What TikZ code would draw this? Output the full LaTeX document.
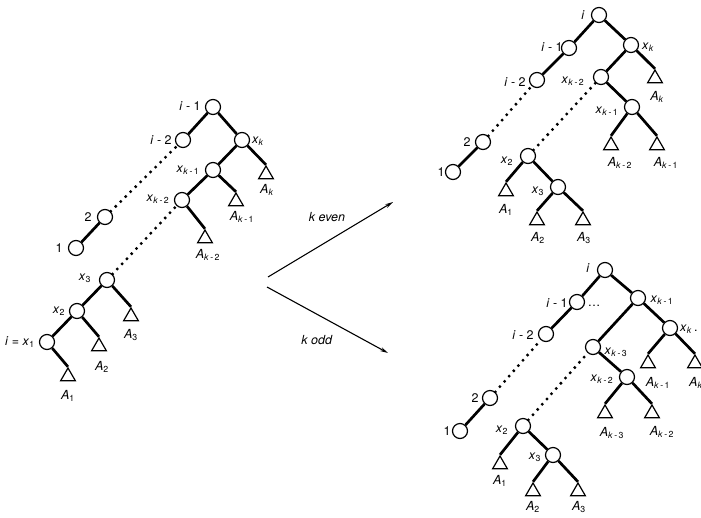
\documentclass[tikz,border=0pt]{standalone}
\usepackage{fontspec}
\setmainfont{TeX Gyre Heros}
\usetikzlibrary{arrows.meta,shapes.geometric}

% label helpers
\newcommand\vi{\textit{i}}
\newcommand\vx[1]{\textit{x}\textsubscript{#1}}
\newcommand\vA[1]{\textit{A}\textsubscript{#1}}
\newcommand\km[1]{\textit{k}\,-\,#1}

\tikzset{
  vtx/.style={circle, draw, line width=1.2pt, minimum size=15pt, inner sep=0pt},
  leaf/.style={regular polygon, regular polygon sides=3, draw, line width=1.2pt,
               minimum size=17pt, inner sep=0pt},
  branch/.style={line width=2.7pt},
  chain/.style={line width=3.3pt, line cap=round, dash pattern=on 0pt off 7pt},
  lbl/.style={font=\fontsize{12.5}{14}\selectfont, inner sep=0pt},
  flow/.style={line width=1.1pt, -{Stealth[length=8pt,width=4pt]}}
}

\begin{document}
\begin{tikzpicture}[x=1pt,y=-1pt]
\useasboundingbox (0,0) rectangle (701,517);

% ---------------- left tree ----------------
\node[vtx] (Lim1) at (213,107) {};
\node[vtx] (Lim2) at (183,140) {};
\node[vtx] (Lxk)  at (242,140) {};
\node[vtx] (Lxk1) at (213,170) {};
\node[vtx] (Lxk2) at (182,200) {};
\node[vtx] (Ln2)  at (105,217) {};
\node[vtx] (Ln1)  at (76,248) {};
\node[vtx] (Lx3)  at (107,280) {};
\node[vtx] (Lx2)  at (77,311) {};
\node[vtx] (Lx1)  at (47,342) {};
\node[leaf] (LAk)  at (266,174.5) {};
\node[leaf] (LAk1) at (236,201.5) {};
\node[leaf] (LAk2) at (205,238.5) {};
\node[leaf] (LA3)  at (131,316.5) {};
\node[leaf] (LA2)  at (99,346.5) {};
\node[leaf] (LA1)  at (68,376.5) {};

\draw[branch] (Lim1) -- (Lim2);
\draw[branch] (Lim1) -- (Lxk);
\draw[branch] (Lxk) -- (Lxk1);
\draw[branch] (Lxk) -- (LAk.corner 1);
\draw[branch] (Lxk1) -- (Lxk2);
\draw[branch] (Lxk1) -- (LAk1.corner 1);
\draw[branch] (Lxk2) -- (LAk2.corner 1);
\draw[branch] (Ln1) -- (Ln2);
\draw[branch] (Lx3) -- (Lx2);
\draw[branch] (Lx3) -- (LA3.corner 1);
\draw[branch] (Lx2) -- (Lx1);
\draw[branch] (Lx2) -- (LA2.corner 1);
\draw[branch] (Lx1) -- (LA1.corner 1);
\draw[chain] (Ln2) -- (Lim2);
\draw[chain] (Lx3) -- (Lxk2);

\node[lbl] at (190,106) {\vi\ - 1};
\node[lbl] at (161,140) {\vi\ - 2};
\node[lbl] at (258,141) {\vx{\textit{k}}};
\node[lbl] at (188,170) {\vx{\km1}};
\node[lbl] at (158,199) {\vx{\km2}};
\node[lbl] at (267,190) {\vA{\textit{k}}};
\node[lbl] at (242,217) {\vA{\km1}};
\node[lbl] at (208,255) {\vA{\km2}};
\node[lbl] at (88,217) {2};
\node[lbl] at (59,248) {1};
\node[lbl] at (85,278) {\vx{3}};
\node[lbl] at (59,311) {\vx{2}};
\node[lbl] at (20,342) {\vi\ = \vx{1}};
\node[lbl] at (131,335) {\vA{3}};
\node[lbl] at (102,367) {\vA{2}};
\node[lbl] at (68,396) {\vA{1}};

% ---------------- arrows ----------------
\coordinate (s1) at (268,277);
\coordinate (e1) at (393,202);
\coordinate (s2) at (267,287);
\coordinate (e2) at (388,353);
\draw[flow] (s1) -- (e1);
\draw[flow] (s2) -- (e2);
\node[lbl] at (327,217) {\textit{k even}};
\node[lbl] at (317,340) {\textit{k odd}};

% ---------------- upper right tree (k even) ----------------
\node[vtx] (Er)   at (599,15) {};
\node[vtx] (Eim1) at (569,48) {};
\node[vtx] (Eim2) at (537,80) {};
\node[vtx] (Exk)  at (631,45) {};
\node[vtx] (Exk2) at (601,77) {};
\node[vtx] (Exk1) at (632,107) {};
\node[vtx] (En2)  at (483,142) {};
\node[vtx] (En1)  at (453,172) {};
\node[vtx] (Ex2)  at (528,156) {};
\node[vtx] (Ex3)  at (558,187) {};
\node[leaf] (EAk)  at (655,78.5) {};
\node[leaf] (EAk2) at (611,145.5) {};
\node[leaf] (EAk1) at (657,145.5) {};
\node[leaf] (EA1)  at (506,191.5) {};
\node[leaf] (EA2)  at (537,220.5) {};
\node[leaf] (EA3)  at (583,220.5) {};

\draw[branch] (Er) -- (Eim1);
\draw[branch] (Er) -- (Exk);
\draw[branch] (Eim1) -- (Eim2);
\draw[branch] (Exk) -- (Exk2);
\draw[branch] (Exk) -- (EAk.corner 1);
\draw[branch] (Exk2) -- (Exk1);
\draw[branch] (Exk1) -- (EAk2.corner 1);
\draw[branch] (Exk1) -- (EAk1.corner 1);
\draw[branch] (En1) -- (En2);
\draw[branch] (Ex2) -- (EA1.corner 1);
\draw[branch] (Ex2) -- (Ex3);
\draw[branch] (Ex3) -- (EA2.corner 1);
\draw[branch] (Ex3) -- (EA3.corner 1);
\draw[chain] (En2) -- (Eim2);
\draw[chain] (Ex2) -- (Exk2);

\node[lbl] at (583,15) {\vi};
\node[lbl] at (552,47) {\vi\ - 1};
\node[lbl] at (515,82) {\vi\ - 2};
\node[lbl] at (648,47) {\vx{\textit{k}}};
\node[lbl] at (573,81) {\vx{\km2}};
\node[lbl] at (607,111) {\vx{\km1}};
\node[lbl] at (657,97) {\vA{\textit{k}}};
\node[lbl] at (620,163) {\vA{\km2}};
\node[lbl] at (666,163) {\vA{\km1}};
\node[lbl] at (467,142) {2};
\node[lbl] at (441,172) {1};
\node[lbl] at (507,161) {\vx{2}};
\node[lbl] at (538,191) {\vx{3}};
\node[lbl] at (506,210) {\vA{1}};
\node[lbl] at (538,238) {\vA{2}};
\node[lbl] at (584,238) {\vA{3}};

% ---------------- lower right tree (k odd) ----------------
\node[vtx] (Or)   at (605,270) {};
\node[vtx] (Oim1) at (577,302) {};
\node[vtx] (Oim2) at (546,334) {};
\node[vtx] (Oxk1) at (638,298) {};
\node[vtx] (Oxk)  at (670,328) {};
\node[vtx] (Oxk3) at (593,347) {};
\node[vtx] (Oxk2) at (627,377) {};
\node[vtx] (On2)  at (490,398) {};
\node[vtx] (On1)  at (460,431) {};
\node[vtx] (Ox2)  at (523,426) {};
\node[vtx] (Ox3)  at (553,455) {};
\node[leaf] (OAk1) at (648,363.5) {};
\node[leaf] (OAk)  at (695,363.5) {};
\node[leaf] (OAk3) at (605,413.5) {};
\node[leaf] (OAk2) at (652,413.5) {};
\node[leaf] (OA1)  at (500,464.5) {};
\node[leaf] (OA2)  at (533,491.5) {};
\node[leaf] (OA3)  at (578,491.5) {};

\draw[branch] (Or) -- (Oim1);
\draw[branch] (Or) -- (Oxk1);
\draw[branch] (Oim1) -- (Oim2);
\draw[branch] (Oxk1) -- (Oxk3);
\draw[branch] (Oxk1) -- (Oxk);
\draw[branch] (Oxk) -- (OAk1.corner 1);
\draw[branch] (Oxk) -- (OAk.corner 1);
\draw[branch] (Oxk3) -- (Oxk2);
\draw[branch] (Oxk2) -- (OAk3.corner 1);
\draw[branch] (Oxk2) -- (OAk2.corner 1);
\draw[branch] (On1) -- (On2);
\draw[branch] (Ox2) -- (OA1.corner 1);
\draw[branch] (Ox2) -- (Ox3);
\draw[branch] (Ox3) -- (OA2.corner 1);
\draw[branch] (Ox3) -- (OA3.corner 1);
\draw[chain] (On2) -- (Oim2);
\draw[chain] (Ox2) -- (Oxk3);

\node[lbl] at (588,268) {\vi};
\node[lbl] at (557,303) {\vi\ - 1};
\node[lbl] at (594,306) {\dots};
\node[lbl] at (523,335) {\vi\ - 2};
\node[lbl] at (662,300) {\vx{\km1}};
\node[lbl, anchor=west] at (680,329) {\vx{\textit{k}}\,.};
\node[lbl] at (616,352) {\vx{\km3}};
\node[lbl] at (602,379) {\vx{\km2}};
\node[lbl] at (658,383) {\vA{\km1}};
\node[lbl, anchor=west] at (689,383) {\vA{\textit{k}}};
\node[lbl] at (612,433) {\vA{\km3}};
\node[lbl] at (662,432) {\vA{\km2}};
\node[lbl] at (475,398) {2};
\node[lbl] at (447,431) {1};
\node[lbl] at (502,430) {\vx{2}};
\node[lbl] at (535,457) {\vx{3}};
\node[lbl] at (500,481) {\vA{1}};
\node[lbl] at (533,507) {\vA{2}};
\node[lbl] at (579,507) {\vA{3}};
\end{tikzpicture}
\end{document}
